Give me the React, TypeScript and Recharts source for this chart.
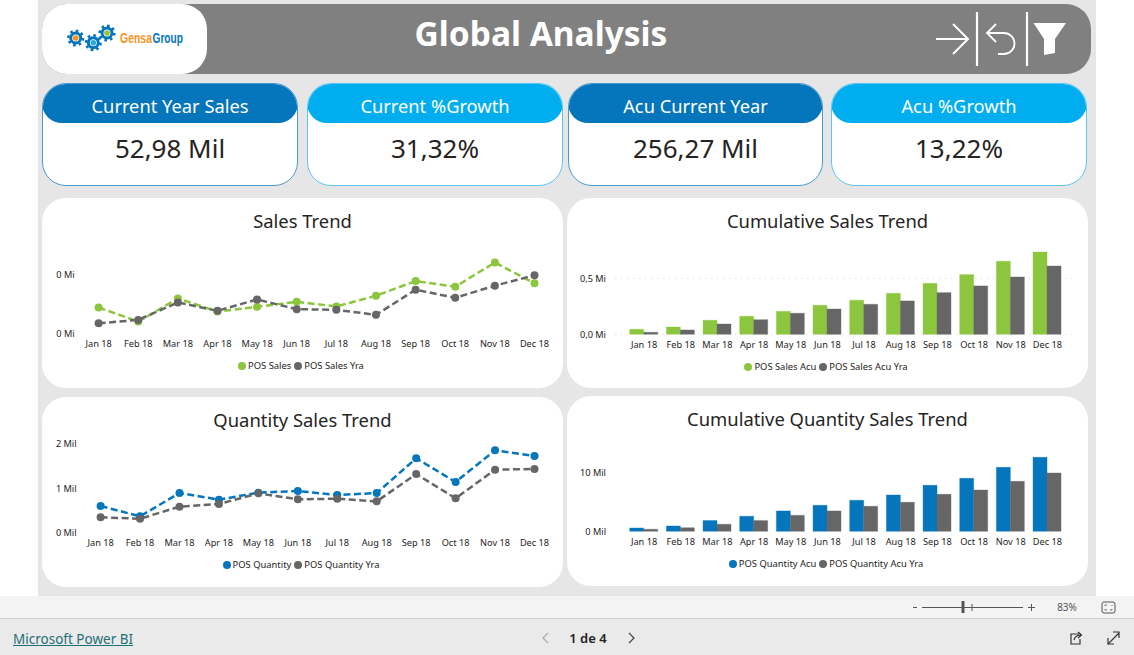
import React from "react";
import { LineChart, Line, BarChart, Bar, XAxis, YAxis, CartesianGrid, Legend } from "recharts";

const months = ["Jan 18","Feb 18","Mar 18","Apr 18","May 18","Jun 18","Jul 18","Aug 18","Sep 18","Oct 18","Nov 18","Dec 18"];
const posSales = [.0438,.0199,.0591,.0369,.0449,.0534,.0455,.0636,.0886,.079,.1199,.0847];
const posSalesYra = [.017,.0227,.0523,.0381,.0574,.0409,.0398,.0313,.0739,.0602,.0807,.0983];
const posSalesAcu = [.045,.065,.125,.161,.205,.259,.304,.366,.455,.533,.652,.735];
const posSalesAcuYra = [.018,.039,.092,.131,.188,.226,.268,.298,.372,.432,.512,.61];
const posQuantity = [.597,.366,.888,.739,.896,.933,.843,.888,1.664,1.134,1.843,1.716];
const posQuantityYra = [.343,.313,.582,.642,.881,.746,.761,.701,1.313,.769,1.41,1.425];
const posQuantityAcu = [.565,.904,1.81,2.54,3.45,4.41,5.25,6.16,7.8,8.98,10.85,12.54];
const posQuantityAcuYra = [.34,.62,1.19,1.81,2.71,3.45,4.24,4.92,6.27,7,8.47,9.89];
const kpiTitles = ["Current Year Sales","Current %Growth","Acu Current Year","Acu %Growth"];
const kpiValues = ["52,98 Mil","31,32%","256,27 Mil","13,22%"];

const FONT = "'Noto Sans', 'Open Sans', sans-serif";
const GREEN = "#8CC63F", GREY = "#666666", BLUE = "#0575BC", CYAN = "#00AEEF";
const INK = "#252423";
const TICK_SIZE = 9.2;

const abs = (left: number, top: number, width: number, height: number): React.CSSProperties => ({ position: "absolute", left, top, width, height });

function Swatches({ payload }: any) {
  return (
    <div style={{ display: "flex", justifyContent: "center", fontFamily: FONT, fontSize: 9.4, color: INK, lineHeight: "12px" }}>
      {(payload || []).map((p: any) => (
        <span key={p.value} style={{ display: "inline-flex", alignItems: "center", marginRight: 3 }}>
          <span style={{ width: 8, height: 8, borderRadius: 4, background: p.color, marginRight: 2 }} />
          {p.value}
        </span>
      ))}
    </div>
  );
}

function Trend({ a, b, nameA, nameB, color, top, bottom, left, right, yMax, ticks, fmt, legendTop, labelGap }: any) {
  const data = months.map((m, i) => ({ month: m, a: a[i], b: b[i] }));
  const dot = (c: string) => ({ r: 4, fill: c, stroke: "none", strokeDasharray: "0" });
  return (
    <LineChart width={521} height={190} data={data} margin={{ top, bottom: bottom - 24, left: left - 50, right }}>
      <XAxis dataKey="month" height={24} interval={0} axisLine={false} tickSize={0} tickMargin={7} tick={{ fontSize: TICK_SIZE, fill: INK, fontFamily: FONT }} />
      <YAxis width={50} domain={[0, yMax]} ticks={ticks} interval={0} tickFormatter={fmt} axisLine={false} tickSize={0} tickMargin={labelGap} tick={{ fontSize: TICK_SIZE, fill: INK, fontFamily: FONT, dy: 0.4 }} />
      <Legend verticalAlign="middle" layout="horizontal" wrapperStyle={{ top: legendTop, left: 0, width: 521 }} content={<Swatches />} />
      <Line dataKey="a" name={nameA} stroke={color} strokeWidth={2.5} strokeDasharray="7 3.5" dot={dot(color)} isAnimationActive={false} />
      <Line dataKey="b" name={nameB} stroke={GREY} strokeWidth={2.5} strokeDasharray="7 3.5" dot={dot(GREY)} isAnimationActive={false} />
    </LineChart>
  );
}

function Cumul({ a, b, nameA, nameB, color, top, bottom, yMax, ticks, fmt, legendTop, grid, gridValues }: any) {
  const data = months.map((m, i) => ({ month: m, a: a[i], b: b[i] }));
  return (
    <BarChart width={521} height={190} data={data} barCategoryGap="10.9%" barGap={0} margin={{ top, bottom: bottom - 24, left: 0, right: 11 }}>
      {grid ? <CartesianGrid vertical={false} stroke="#d9d9d9" strokeDasharray="1 5" horizontalValues={gridValues} /> : null}
      <XAxis dataKey="month" height={24} interval={0} axisLine={false} tickSize={0} tickMargin={7} padding={{ left: 10.7, right: 11.3 }} tick={{ fontSize: TICK_SIZE, fill: INK, fontFamily: FONT }} />
      <YAxis width={48} domain={[0, yMax]} ticks={ticks} interval={0} tickFormatter={fmt} axisLine={false} tickSize={0} tickMargin={9} tick={{ fontSize: TICK_SIZE, fill: INK, fontFamily: FONT, dy: 0.4 }} />
      <Legend verticalAlign="middle" layout="horizontal" wrapperStyle={{ top: legendTop, left: 0, width: 521 }} content={<Swatches />} />
      <Bar dataKey="a" name={nameA} fill={color} stroke={color} strokeOpacity={0.35} isAnimationActive={false} />
      <Bar dataKey="b" name={nameB} fill={GREY} stroke={GREY} strokeOpacity={0.35} isAnimationActive={false} />
    </BarChart>
  );
}

function Panel({ x, y, title, titleY, children }: any) {
  return (
    <div style={{ ...abs(x, y, 521, 190), background: "#fff", borderRadius: 24, overflow: "hidden" }}>
      <div style={{ ...abs(0, titleY - 15, 521, 30), textAlign: "center", fontFamily: FONT, fontSize: 18.4, lineHeight: "30px", color: INK }}>{title}</div>
      <div style={abs(0, 0, 521, 190)}>{children}</div>
    </div>
  );
}

function Kpi({ x, w, title, value, color, edge }: any) {
  return (
    <div style={{ ...abs(x, 83, w, 103), boxSizing: "border-box", background: "#fff", border: `1px solid ${edge}`, borderRadius: 24, overflow: "hidden", fontFamily: FONT }}>
      <div style={{ height: 40, marginLeft: -1, marginTop: -1, width: w, background: color, borderRadius: "0 0 20px 20px", color: "#fff", fontSize: 18.3, lineHeight: "46px", textAlign: "center" }}>{title}</div>
      <div style={{ textAlign: "center", fontSize: 26, lineHeight: "49px", color: INK, marginTop: 1 }}>{value}</div>
    </div>
  );
}

function Gear({ cx, cy, c }: any) {
  return (
    <g>
      <circle cx={cx} cy={cy} r={7.3} fill="none" stroke={BLUE} strokeWidth={2.6} strokeDasharray="2.6 3.1" />
      <circle cx={cx} cy={cy} r={5} fill="#fff" stroke={BLUE} strokeWidth={3} />
      <circle cx={cx} cy={cy} r={2.8} fill={c} />
    </g>
  );
}

export default function App() {
  const mi = (v: number) => `${v.toFixed(0)} Mi`;
  const mi1 = (v: number) => `${v.toFixed(1).replace(".", ",")} Mi`;
  const mil = (v: number) => `${v} Mil`;
  const logoFont = "'Liberation Sans', sans-serif";
  return (
    <div style={{ position: "fixed", left: 0, top: 0, width: 1134, height: 655, overflow: "hidden", background: "#fff", fontFamily: FONT }}>
      <div style={{ ...abs(38, 0, 1058, 596), background: "#E6E6E6" }} />
      <div style={{ ...abs(42, 4, 1049, 70), background: "#808080", borderRadius: 25 }} />
      <div style={{ ...abs(42, 4, 165, 70), background: "#fff", borderRadius: 25 }} />
      <svg style={abs(60, 20, 140, 40)} viewBox="0 0 140 40">
        <Gear cx={15.7} cy={18} c="#F7941D" />
        <Gear cx={33.3} cy={22.7} c="#29ABE2" />
        <Gear cx={47} cy={13} c="#8CC63F" />
        <text x={60} y={23} textLength={32} lengthAdjust="spacingAndGlyphs" fontFamily={logoFont} fontSize={15} fontWeight={700} fill="#F7941D">Gensa</text>
        <text x={92.5} y={23} textLength={30.5} lengthAdjust="spacingAndGlyphs" fontFamily={logoFont} fontSize={15} fontWeight={700} fill={BLUE}>Group</text>
      </svg>
      <div style={{ ...abs(340, 9, 402, 48), textAlign: "center", color: "#fff", fontWeight: 700, fontSize: 33.5, lineHeight: "48px", fontFamily: FONT }}>Global Analysis</div>
      <svg style={abs(930, 8, 145, 62)} viewBox="0 0 145 62" fill="none" stroke="#fff">
        <path d="M6 31H37M23 16L38 31L23 46" strokeWidth={2} />
        <path d="M47 4V58M97 4V58" strokeWidth={2.2} />
        <path d="M57 25H74a10 10 0 0 1 0 21H68M66 16L57 25L66 34" strokeWidth={1.8} />
        <path d="M103.5 15H136L125 31V45L114 47V31Z" fill="#fff" strokeWidth={0} />
      </svg>

      <Kpi x={42} w={256} title={kpiTitles[0]} value={kpiValues[0]} color={BLUE} edge="#4A9BD0" />
      <Kpi x={307} w={256} title={kpiTitles[1]} value={kpiValues[1]} color={CYAN} edge="#5CC6F2" />
      <Kpi x={568} w={255} title={kpiTitles[2]} value={kpiValues[2]} color={BLUE} edge="#4A9BD0" />
      <Kpi x={831} w={256} title={kpiTitles[3]} value={kpiValues[3]} color={CYAN} edge="#5CC6F2" />

      <Panel x={42} y={198} title="Sales Trend" titleY={23}>
        <Trend a={posSales} b={posSalesYra} nameA="POS Sales" nameB="POS Sales Yra" color={GREEN} top={58.6} bottom={54.7} left={56.6} right={28.5} yMax={0.13} ticks={[0, 0.1]} fmt={mi} legendTop={162} labelGap={24} />
      </Panel>
      <Panel x={567} y={198} title="Cumulative Sales Trend" titleY={23}>
        <Cumul a={posSalesAcu} b={posSalesAcuYra} nameA="POS Sales Acu" nameB="POS Sales Acu Yra" color={GREEN} top={46.7} bottom={53.7} yMax={0.8} ticks={[0, 0.5]} fmt={mi1} legendTop={163} grid gridValues={[0, 0.5]} />
      </Panel>
      <Panel x={42} y={397} title="Quantity Sales Trend" titleY={23}>
        <Trend a={posQuantity} b={posQuantityYra} nameA="POS Quantity" nameB="POS Quantity Yra" color={BLUE} top={46.3} bottom={54.3} left={58.6} right={28.5} yMax={2} ticks={[0, 1, 2]} fmt={mil} legendTop={162} labelGap={24} />
      </Panel>
      <Panel x={567} y={396} title="Cumulative Quantity Sales Trend" titleY={23}>
        <Cumul a={posQuantityAcu} b={posQuantityAcuYra} nameA="POS Quantity Acu" nameB="POS Quantity Acu Yra" color={BLUE} top={52.7} bottom={54.7} yMax={14} ticks={[0, 10]} fmt={mil} legendTop={162} />
      </Panel>

      <div style={{ ...abs(0, 596, 1134, 22), background: "#F3F3F3" }} />
      <div style={{ ...abs(0, 618, 1134, 37), background: "#EAEAEA", borderTop: "1px solid #cfcfcf", boxSizing: "border-box" }} />
      <svg style={abs(905, 597, 220, 20)} viewBox="0 0 220 20" fill="none" stroke="#555">
        <path d="M8 10.5H12M17 10.5H118" strokeWidth={1} />
        <path d="M58 4V16" strokeWidth={3} />
        <path d="M67 7V14" strokeWidth={1} />
        <path d="M123 10.5H130M126.5 7V14" strokeWidth={1} />
        <rect x={197} y={5} width={13} height={11} rx={2} strokeWidth={1} />
        <path d="M200 9V8H202M207 8V9M200 12V13H202M207 12V13H205" strokeWidth={0.8} />
      </svg>
      <div style={{ ...abs(1047, 600, 40, 14), fontSize: 10, lineHeight: "14px", color: "#555", textAlign: "center" }}>83%</div>
      <a style={{ ...abs(13, 630, 130, 18), fontSize: 13.5, lineHeight: "18px", color: "#1F6F78", textDecoration: "underline", whiteSpace: "nowrap" }}>Microsoft Power BI</a>
      <div style={{ ...abs(558, 629, 60, 18), fontSize: 13, fontWeight: 600, lineHeight: "18px", color: "#222", textAlign: "center" }}>1 de 4</div>
      <svg style={abs(535, 628, 105, 20)} viewBox="0 0 105 20" fill="none">
        <path d="M13 5L8 10L13 15" stroke="#aaa" strokeWidth={1.2} />
        <path d="M94 5L99 10L94 15" stroke="#444" strokeWidth={1.2} />
      </svg>
      <svg style={abs(1065, 628, 60, 20)} viewBox="0 0 60 20" fill="none" stroke="#333" strokeWidth={1.2}>
        <path d="M14 6H6V16H15V11M9 12C10 8 13 7 16 7M13 4L16.5 7L13 10" />
        <path d="M43 16L54 5M48 4H54V10" />
        <path d="M43 10V16H49" />
      </svg>
    </div>
  );
}
